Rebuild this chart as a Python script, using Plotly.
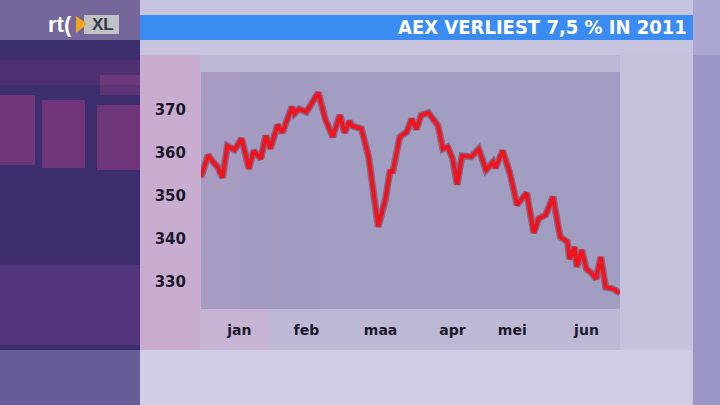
import plotly.graph_objects as go

# ---- data ----
dates = [
    "2011-01-03", "2011-01-06", "2011-01-08", "2011-01-10", "2011-01-12", "2011-01-14",
    "2011-01-17", "2011-01-20", "2011-01-23", "2011-01-25", "2011-01-28", "2011-01-30",
    "2011-02-01", "2011-02-04", "2011-02-06", "2011-02-10", "2011-02-11", "2011-02-13",
    "2011-02-16", "2011-02-21", "2011-02-24", "2011-02-27", "2011-03-02", "2011-03-04",
    "2011-03-06", "2011-03-07", "2011-03-11", "2011-03-14", "2011-03-18", "2011-03-21",
    "2011-03-23", "2011-03-24", "2011-03-27", "2011-03-30", "2011-04-01", "2011-04-03",
    "2011-04-05", "2011-04-08", "2011-04-12", "2011-04-14", "2011-04-16", "2011-04-18",
    "2011-04-20", "2011-04-22", "2011-04-26", "2011-04-29", "2011-05-02", "2011-05-05",
    "2011-05-06", "2011-05-09", "2011-05-12", "2011-05-15", "2011-05-19", "2011-05-22",
    "2011-05-24", "2011-05-27", "2011-05-30", "2011-06-02", "2011-06-05", "2011-06-06",
    "2011-06-08", "2011-06-09", "2011-06-11", "2011-06-13", "2011-06-15", "2011-06-17",
    "2011-06-19", "2011-06-21", "2011-06-24", "2011-06-27",
]
aex = [
    354.4, 359.5, 357.9, 356.7, 354.2, 361.6,
    360.7, 363.3, 356.3, 360.5, 358.6, 364.0,
    361.0, 366.5, 364.7, 370.7, 369.1, 370.2,
    369.5, 374.0, 367.7, 363.7, 368.8, 364.7,
    367.4, 366.3, 365.6, 359.1, 342.8, 349.1,
    356.0, 355.3, 363.7, 364.9, 367.9, 365.5,
    368.8, 369.3, 366.3, 360.9, 361.4, 358.8,
    352.6, 359.3, 359.1, 360.9, 356.0, 357.9,
    356.5, 360.5, 355.3, 347.9, 350.7, 341.4,
    344.7, 345.6, 349.8, 340.5, 339.3, 335.3,
    338.1, 333.5, 337.4, 333.0, 332.1, 330.7,
    335.8, 328.8, 328.4, 327.4,
]
y_ticks = [330, 340, 350, 360, 370]
month_tick_dates = ["2011-01-19", "2011-02-16", "2011-03-19", "2011-04-18", "2011-05-13", "2011-06-13"]
month_labels = ["jan", "feb", "maa", "apr", "mei", "jun"]
title_text = "AEX VERLIEST 7,5 % IN 2011"

# ---- geometry helpers (pixel -> paper) ----
W, H = 720, 405
L, R, T, B = 201, 620, 72, 309


def px(x):
    return (x - L) / (R - L)


def py(y):
    return (B - y) / (B - T)


def rect(x0, y0, x1, y1, color, layer="below"):
    return dict(type="rect", xref="paper", yref="paper",
                x0=px(x0), x1=px(x1), y0=py(y1), y1=py(y0),
                fillcolor=color, line=dict(width=0), layer=layer)


shapes = [
    rect(0, 0, 720, 405, "#c6c4de"),
    # chart panel
    rect(140, 55, 692, 350, "#bcb8d6"),
    rect(620, 55, 692, 350, "rgba(205,203,228,0.5)"),
    # pinkish left part of chart panel
    rect(140, 55, 200, 350, "rgba(214,160,205,0.45)"),
    rect(200, 309, 270, 350, "rgba(222,170,210,0.35)"),
    # bottom lighter band
    rect(140, 350, 692, 405, "#d0cee5"),
    # right band
    rect(693, 0, 720, 405, "#9a97c6"),
    rect(693, 0, 720, 55, "#aaa8d2"),
    # left dark panel
    rect(0, 0, 140, 405, "#3d2e6e"),
    rect(0, 0, 140, 40, "#76679a"),
    rect(0, 350, 140, 405, "#655c98"),
    # soft pink dot-matrix glow blocks
    rect(0, 95, 35, 165, "rgba(225,70,150,0.30)"),
    rect(42, 100, 85, 168, "rgba(225,70,150,0.32)"),
    rect(97, 105, 140, 170, "rgba(225,70,150,0.30)"),
    rect(0, 60, 140, 85, "rgba(190,70,150,0.15)"),
    rect(100, 75, 140, 95, "rgba(225,80,160,0.22)"),
    rect(0, 265, 140, 345, "rgba(160,80,170,0.22)"),
    # blue banner
    rect(140, 15, 693, 40, "#3a8bf2"),
    # plot area (with faint pink tint on the left)
    rect(L, T, R, B, "#a19ec2"),
    rect(L, T, 240, B, "rgba(200,140,190,0.16)"),
    rect(240, T, 280, B, "rgba(200,140,190,0.10)"),
    rect(280, T, 320, B, "rgba(200,140,190,0.05)"),
    # logo: orange triangle and grey XL box
    rect(84, 15, 119, 34, "#bfc2c4", layer="above"),
    dict(type="path", xref="paper", yref="paper",
         path=f"M {px(76)} {py(16)} L {px(87)} {py(24)} L {px(76)} {py(33)} Z",
         fillcolor="#f2a520", line=dict(width=0), layer="above"),
]

fig = go.Figure()
fig.add_trace(go.Scatter(x=dates, y=aex, mode="lines",
                         line=dict(color="rgba(90,0,30,0.35)", width=7),
                         hoverinfo="skip", showlegend=False))
fig.add_trace(go.Scatter(x=dates, y=aex, mode="lines",
                         line=dict(color="#f2121c", width=4),
                         showlegend=False))

annotations = [
    dict(text=f"<b>{title_text}</b>", xref="paper", yref="paper",
         x=px(689), y=py(27.5), xanchor="right", yanchor="middle", showarrow=False,
         font=dict(family="DejaVu Sans Condensed, Liberation Sans", size=20, color="white")),
    dict(text="<b>rt(</b>", xref="paper", yref="paper",
         x=px(74), y=py(25), xanchor="right", yanchor="middle", showarrow=False,
         font=dict(family="Liberation Sans", size=22, color="white")),
    dict(text="<b>XL</b>", xref="paper", yref="paper",
         x=px(103), y=py(25), xanchor="center", yanchor="middle", showarrow=False,
         font=dict(family="Liberation Sans", size=17, color="#3a3a44")),
]

fig.update_layout(
    width=W, height=H,
    margin=dict(l=L, r=W - R, t=T, b=H - B),
    paper_bgcolor="#c6c4de",
    plot_bgcolor="rgba(0,0,0,0)",
    shapes=shapes,
    annotations=annotations,
    showlegend=False,
    xaxis=dict(range=["2011-01-03", "2011-06-27"], tickvals=month_tick_dates,
               ticktext=month_labels, showgrid=False, zeroline=False, ticks="",
               showline=False, ticklabelstandoff=11,
               tickfont=dict(family="DejaVu Sans", size=14, color="#1c1a2a", weight="bold")),
    yaxis=dict(range=[323.7, 378.8], tickvals=y_ticks, showgrid=False, zeroline=False,
               ticks="", showline=False, ticklabelstandoff=14,
               tickfont=dict(family="DejaVu Sans", size=15, color="#1c1a2a", weight="bold")),
)

fig.write_html("out.html", config={"displayModeBar": False},
               post_script="document.body.style.margin='0';document.body.style.padding='0';")
